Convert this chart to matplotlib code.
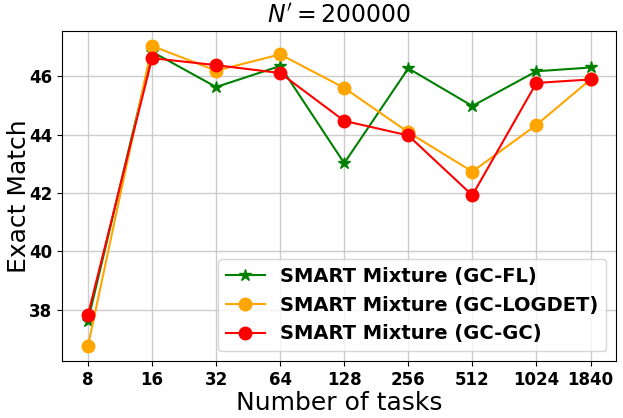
import matplotlib
matplotlib.use("Agg")
import matplotlib.pyplot as plt

tasks = [8, 16, 32, 64, 128, 256, 512, 1024, 1840]
tick_labels = ["8", "16", "32", "64", "128", "256", "512", "1024", "1840"]
gc_fl = [37.62, 46.84, 45.63, 46.35, 43.02, 46.27, 44.98, 46.17, 46.30]
gc_logdet = [36.76, 47.04, 46.19, 46.75, 45.60, 44.08, 42.73, 44.33, 45.89]
gc_gc = [37.83, 46.62, 46.38, 46.11, 44.47, 43.97, 41.92, 45.77, 45.89]

fig = plt.figure(figsize=(6.23, 4.18), dpi=100)
ax = fig.add_axes([0.0995, 0.1364, 0.8895, 0.7894])
ax.plot(tasks, gc_fl, color="green", marker="*", markersize=9, label="SMART Mixture (GC-FL)")
ax.plot(tasks, gc_logdet, color="orange", marker="o", markersize=9, label="SMART Mixture (GC-LOGDET)")
ax.plot(tasks, gc_gc, color="red", marker="o", markersize=9, label="SMART Mixture (GC-GC)")
ax.set_xscale("log", base=2)
ax.set_xticks(tasks)
ax.set_xticklabels(tick_labels)
ax.minorticks_off()
ax.set_xlim(2**2.594, 2**11.245)
ax.set_ylim(36.24, 47.55)
ax.set_yticks([38, 40, 42, 44, 46])
for lbl in ax.get_xticklabels() + ax.get_yticklabels():
    lbl.set_fontweight("bold")
    lbl.set_fontsize(12)
ax.grid(True, color="#cccccc", linewidth=1)
ax.set_xlabel("Number of tasks", fontsize=18, labelpad=2)
ax.set_ylabel("Exact Match", fontsize=18)
ax.yaxis.set_label_coords(-0.056, 0.5)
ax.set_title(r"$N'=200000$", fontsize=17)
ax.legend(loc="lower right", prop={"weight": "bold", "size": 14})
fig.savefig("out.png", dpi=100)
